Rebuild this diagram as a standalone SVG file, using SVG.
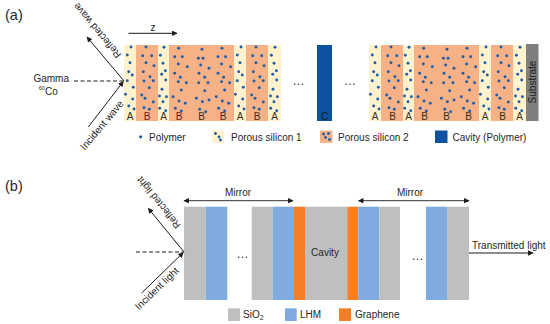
<svg xmlns="http://www.w3.org/2000/svg" xmlns:xlink="http://www.w3.org/1999/xlink" width="550" height="324" viewBox="0 0 550 324">
<style>
text{font-family:"Liberation Sans",Arial,sans-serif;fill:#262626;}
.t10{font-size:10px;}
.lbl{font-size:10px;text-anchor:middle;fill:#3a3020;}
.pan{font-size:14.5px;}
.A{fill:#FFF2CC;}
.B{fill:#F6B186;}
.cav{fill:#0C529F;}
.sio{fill:#BFBFBF;}
.lhm{fill:#80ABDF;}
.gra{fill:#F57F27;}
.ln{stroke:#1a1a1a;stroke-width:1;fill:none;}
.dash{stroke:#1a1a1a;stroke-width:1;stroke-dasharray:4,2.5;fill:none;}
.dots circle{fill:#1F5DA8;}
.ell{font-size:12px;text-anchor:middle;fill:#333;}
</style>
<defs>
<marker id="ah" viewBox="0 0 10 10" refX="9" refY="5" markerWidth="6.5" markerHeight="5.5" markerUnits="userSpaceOnUse" orient="auto-start-reverse">
<path d="M0,0 L10,5 L0,10 z" fill="#1a1a1a"/>
</marker>
<g id="dA1" class="dots">
<circle cx="7" cy="2" r="1.45"/><circle cx="3.3" cy="10" r="1.45"/><circle cx="6" cy="17.7" r="1.45"/><circle cx="4.7" cy="26.7" r="1.45"/><circle cx="8.3" cy="30" r="1.45"/><circle cx="3.3" cy="35.7" r="1.45"/><circle cx="9.3" cy="42.3" r="1.45"/><circle cx="1.5" cy="49.3" r="1.45"/><circle cx="8.7" cy="54" r="1.45"/><circle cx="4.7" cy="61" r="1.45"/><circle cx="10" cy="64" r="1.45"/>
</g>
<g id="dA2" class="dots">
<circle cx="6" cy="2.3" r="1.45"/><circle cx="2.4" cy="10.3" r="1.45"/><circle cx="5" cy="18.3" r="1.45"/><circle cx="7.4" cy="25.7" r="1.45"/><circle cx="3.7" cy="29.3" r="1.45"/><circle cx="7.7" cy="35" r="1.45"/><circle cx="4" cy="44.3" r="1.45"/><circle cx="1.5" cy="51" r="1.45"/><circle cx="8.4" cy="51.7" r="1.45"/><circle cx="5" cy="56.7" r="1.45"/><circle cx="1.7" cy="63.3" r="1.45"/><circle cx="7.7" cy="65.7" r="1.45"/>
</g>
<g id="dB1" class="dots">
<circle cx="10" cy="2" r="1.45"/><circle cx="6.7" cy="10.7" r="1.45"/><circle cx="15.7" cy="10.7" r="1.45"/><circle cx="10" cy="17.7" r="1.45"/><circle cx="18" cy="20.7" r="1.45"/><circle cx="7.3" cy="26.7" r="1.45"/><circle cx="14" cy="31.7" r="1.45"/><circle cx="8" cy="36" r="1.45"/><circle cx="17.3" cy="35.7" r="1.45"/><circle cx="13.3" cy="42.7" r="1.45"/><circle cx="5.7" cy="50" r="1.45"/><circle cx="9" cy="53.3" r="1.45"/><circle cx="17.3" cy="57" r="1.45"/><circle cx="8" cy="62.7" r="1.45"/><circle cx="13.3" cy="64.3" r="1.45"/>
</g>
<g id="dB2" class="dots">
<circle cx="11.3" cy="4.3" r="1.45"/><circle cx="7.7" cy="13.3" r="1.45"/><circle cx="12.3" cy="13.3" r="1.45"/><circle cx="10" cy="20" r="1.45"/><circle cx="18.3" cy="23.3" r="1.45"/><circle cx="8.3" cy="28.3" r="1.45"/><circle cx="14" cy="32.3" r="1.45"/><circle cx="8" cy="37.7" r="1.45"/><circle cx="17.3" cy="37.7" r="1.45"/><circle cx="14" cy="45.7" r="1.45"/><circle cx="5.7" cy="53.3" r="1.45"/><circle cx="11.7" cy="56.7" r="1.45"/><circle cx="18.3" cy="55" r="1.45"/><circle cx="9" cy="64.3" r="1.45"/><circle cx="15" cy="66.7" r="1.45"/>
</g>
<g id="dB3" class="dots">
<circle cx="9.7" cy="3.3" r="1.45"/><circle cx="5.7" cy="11.7" r="1.45"/><circle cx="13.3" cy="11.7" r="1.45"/><circle cx="9.3" cy="19" r="1.45"/><circle cx="18.3" cy="21.7" r="1.45"/><circle cx="5.7" cy="28.3" r="1.45"/><circle cx="11.3" cy="32.3" r="1.45"/><circle cx="9.3" cy="36.7" r="1.45"/><circle cx="17.3" cy="37.7" r="1.45"/><circle cx="12.3" cy="45" r="1.45"/><circle cx="4" cy="51.7" r="1.45"/><circle cx="10" cy="56" r="1.45"/><circle cx="16.3" cy="58.3" r="1.45"/><circle cx="6.3" cy="63.3" r="1.45"/><circle cx="12.3" cy="66" r="1.45"/>
</g>
<g id="stack">
<rect class="A" x="0" y="45" width="12" height="76"/>
<rect class="B" x="12" y="45" width="22" height="76"/>
<rect class="A" x="34" y="45" width="11" height="76"/>
<rect class="B" x="45" y="45" width="65" height="76"/>
<rect class="A" x="110" y="45" width="12" height="76"/>
<rect class="B" x="122" y="45" width="22" height="76"/>
<rect class="A" x="144" y="45" width="13" height="76"/>
<use xlink:href="#dA1" x="0" y="45"/>
<use xlink:href="#dB1" x="12" y="45"/>
<use xlink:href="#dA2" x="34" y="45"/>
<use xlink:href="#dB3" x="45" y="45"/>
<use xlink:href="#dB2" x="66.7" y="45"/>
<use xlink:href="#dB3" x="88.3" y="45"/>
<use xlink:href="#dA1" x="110" y="45"/>
<use xlink:href="#dB1" x="122" y="45"/>
<use xlink:href="#dA2" x="145" y="45"/>
</g>
</defs>

<!-- Panel (a) -->
<text class="pan" x="5" y="20">(a)</text>

<g id="stack-left">
<use xlink:href="#stack" x="124" y="0"/>
<text class="lbl" x="130" y="120">A</text><text class="lbl" x="147" y="120">B</text><text class="lbl" x="163.5" y="120">A</text>
<text class="lbl" x="179" y="120">B</text><text class="lbl" x="201.5" y="120">B</text><text class="lbl" x="223" y="120">B</text>
<text class="lbl" x="240" y="120">A</text><text class="lbl" x="257" y="120">B</text><text class="lbl" x="274.5" y="120">A</text>
</g>

<g id="cavity-a">
<rect class="cav" x="317" y="45" width="15" height="76"/>
<text class="lbl" x="324.5" y="120" style="fill:#1a1a1a">C</text>
</g>

<g id="stack-right">
<use xlink:href="#stack" x="369" y="0"/>
<text class="lbl" x="375" y="120">A</text><text class="lbl" x="392.5" y="120">B</text><text class="lbl" x="408.5" y="120">A</text>
<text class="lbl" x="424.5" y="120">B</text><text class="lbl" x="446.5" y="120">B</text><text class="lbl" x="468.5" y="120">B</text>
<text class="lbl" x="485" y="120">A</text><text class="lbl" x="502.5" y="120">B</text><text class="lbl" x="519.5" y="120">A</text>
</g>

<g id="substrate">
<rect x="526" y="44" width="12.5" height="77" fill="#7F7F7F"/>
<text class="t10" x="535.5" y="82" text-anchor="middle" transform="rotate(-90 535.5 82)" style="fill:#1a1a1a">Substrate</text>
</g>

<g id="ellipsis-a">
<text class="ell" x="298.5" y="85">…</text>
<text class="ell" x="350" y="85">…</text>
</g>

<g id="source-a">
<text class="t10" x="69" y="81.5" text-anchor="end">Gamma</text>
<text x="38.8" y="89.5" style="font-size:5.5px">60</text>
<text class="t10" x="45" y="95">Co</text>
</g>

<g id="connectors-a">
<line class="ln" x1="128.5" y1="33.3" x2="177" y2="33.3" marker-end="url(#ah)"/>
<line class="dash" x1="74" y1="81" x2="123" y2="81"/>
<line class="ln" x1="124" y1="81" x2="87" y2="37" marker-end="url(#ah)"/>
<line class="ln" x1="88.3" y1="127" x2="123.3" y2="81.5" marker-end="url(#ah)"/>
</g>
<text class="t10" x="150.5" y="31">z</text>
<text class="t10" x="99.8" y="28.4" text-anchor="middle" transform="rotate(230 99.8 28.4)">Reflected wave</text>
<text class="t10" x="104.5" y="127.3" text-anchor="middle" transform="rotate(-50 104.5 127.3)">Incident wave</text>

<g id="legend-a">
<circle cx="140.7" cy="136.8" r="1.6" fill="#1F5DA8"/>
<text class="t10" x="149" y="140.5">Polymer</text>
<rect class="A" x="212" y="130.5" width="12" height="12.5"/>
<circle cx="215.5" cy="133.5" r="1.4" fill="#1F5DA8"/><circle cx="219" cy="137" r="1.4" fill="#1F5DA8"/><circle cx="220.5" cy="140" r="1.4" fill="#1F5DA8"/>
<text class="t10" x="231" y="140.5">Porous silicon 1</text>
<rect class="B" x="320" y="130.5" width="12.5" height="12.5"/>
<circle cx="323.5" cy="134" r="1.4" fill="#1F5DA8"/><circle cx="328.5" cy="133.5" r="1.4" fill="#1F5DA8"/><circle cx="325.5" cy="137.5" r="1.4" fill="#1F5DA8"/><circle cx="329.5" cy="139.5" r="1.4" fill="#1F5DA8"/>
<text class="t10" x="338" y="140.5">Porous silicon 2</text>
<rect class="cav" x="435" y="130.5" width="12.5" height="12.5"/>
<text class="t10" x="452.5" y="140.5">Cavity (Polymer)</text>
</g>

<!-- Panel (b) -->
<text class="pan" x="5" y="191">(b)</text>

<g id="mirror-left">
<rect class="sio" x="184" y="206.7" width="21.7" height="93.3"/>
<rect class="lhm" x="205.7" y="206.7" width="21.6" height="93.3"/>
<rect class="sio" x="251.7" y="206.7" width="21" height="93.3"/>
<rect class="lhm" x="272.7" y="206.7" width="21.3" height="93.3"/>
</g>
<g id="cavity-b">
<rect class="gra" x="294" y="206.7" width="11" height="93.3"/>
<rect class="sio" x="305" y="206.7" width="42.3" height="93.3"/>
<rect class="gra" x="347.3" y="206.7" width="11" height="93.3"/>
<text class="t10" x="325" y="256" text-anchor="middle">Cavity</text>
</g>
<g id="mirror-right">
<rect class="lhm" x="358.3" y="206.7" width="21" height="93.3"/>
<rect class="sio" x="379.3" y="206.7" width="20.7" height="93.3"/>
<rect class="lhm" x="426" y="206.7" width="21.7" height="93.3"/>
<rect class="sio" x="447.7" y="206.7" width="21.3" height="93.3"/>
</g>
<g id="ellipsis-b">
<text class="ell" x="242.5" y="258">…</text>
<text class="ell" x="417.5" y="260">…</text>
</g>

<g id="connectors-b">
<line class="ln" x1="184" y1="200.7" x2="293" y2="200.7" marker-start="url(#ah)" marker-end="url(#ah)" style="stroke:#333"/>
<line class="ln" x1="358.5" y1="200.7" x2="469" y2="200.7" marker-start="url(#ah)" marker-end="url(#ah)" style="stroke:#333"/>
<line class="dash" x1="136" y1="252" x2="183" y2="252"/>
<line class="ln" x1="184" y1="252" x2="148.3" y2="208.3" marker-end="url(#ah)"/>
<line class="ln" x1="141.7" y1="293" x2="183.3" y2="252.5" marker-end="url(#ah)"/>
<line class="ln" x1="469" y1="253" x2="533" y2="253" marker-end="url(#ah)"/>
</g>
<text class="t10" x="238" y="196" text-anchor="middle">Mirror</text>
<text class="t10" x="410" y="196" text-anchor="middle">Mirror</text>
<text class="t10" x="472" y="249">Transmitted light</text>
<text class="t10" x="161.4" y="200.4" text-anchor="middle" transform="rotate(231 161.4 200.4)">Reflected light</text>
<text class="t10" x="159.2" y="290.9" text-anchor="middle" transform="rotate(-44 159.2 290.9)">Incident light</text>

<g id="legend-b">
<rect class="sio" x="228" y="308.3" width="12" height="12.7"/>
<text class="t10" x="243" y="318">SiO<tspan style="font-size:7px" dy="1.5">2</tspan></text>
<rect class="lhm" x="285" y="308.3" width="11.7" height="12.7"/>
<text class="t10" x="300" y="318">LHM</text>
<rect class="gra" x="339" y="308.3" width="12" height="12.7"/>
<text class="t10" x="355" y="318">Graphene</text>
</g>
</svg>
